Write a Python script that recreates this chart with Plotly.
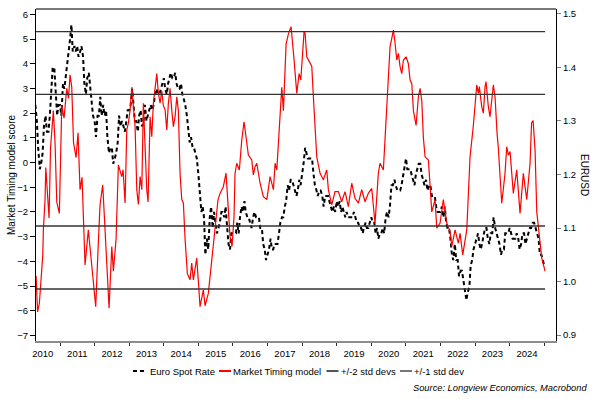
import pandas as pd
import plotly.graph_objects as go

# ---------------- data ----------------
# EURUSD, semi-monthly (1st / 15th), starting 2010-04-15
eurusd = [
    1.33, 1.30, 1.25, 1.21, 1.22, 1.24, 1.29, 1.31, 1.28, 1.28, 1.31, 1.37, 1.40, 1.40, 1.36, 1.31, 1.33,
    1.33, 1.31, 1.37, 1.36, 1.38, 1.40, 1.42, 1.45, 1.48, 1.43, 1.44, 1.43, 1.44, 1.42, 1.43, 1.44, 1.42, 1.37, 1.35, 1.38, 1.39, 1.36, 1.34, 1.31,
    1.30, 1.27, 1.31, 1.31, 1.345, 1.31, 1.33, 1.31, 1.32, 1.27, 1.24, 1.25, 1.25, 1.22, 1.23, 1.24, 1.26, 1.31, 1.29, 1.30, 1.29, 1.28, 1.30, 1.32,
    1.32, 1.33, 1.36, 1.33, 1.30, 1.30, 1.28, 1.31, 1.32, 1.29, 1.30, 1.33, 1.30, 1.31, 1.32, 1.33, 1.32, 1.33, 1.35, 1.36, 1.35, 1.35, 1.36, 1.37,
    1.38, 1.36, 1.35, 1.37, 1.38, 1.39, 1.38, 1.38, 1.39, 1.37, 1.36, 1.36, 1.37, 1.35, 1.34, 1.33, 1.31, 1.28, 1.26, 1.27, 1.25, 1.25, 1.24, 1.23,
    1.20, 1.16, 1.13, 1.14, 1.12, 1.05, 1.08, 1.06, 1.12, 1.14, 1.10, 1.13, 1.11, 1.09, 1.10, 1.11, 1.13, 1.13, 1.12, 1.14, 1.10, 1.07, 1.06, 1.09,
    1.09, 1.09, 1.09, 1.11, 1.09, 1.12, 1.14, 1.13, 1.15, 1.13, 1.12, 1.12, 1.11, 1.10, 1.12, 1.13, 1.12, 1.12, 1.12, 1.10, 1.10, 1.07, 1.06, 1.04,
    1.05, 1.06, 1.08, 1.06, 1.06, 1.07, 1.07, 1.07, 1.09, 1.11, 1.12, 1.12, 1.14, 1.15, 1.18, 1.17, 1.19, 1.19, 1.18, 1.17, 1.16, 1.17, 1.19, 1.18,
    1.20, 1.22, 1.25, 1.24, 1.23, 1.23, 1.23, 1.23, 1.20, 1.18, 1.17, 1.16, 1.17, 1.17, 1.16, 1.14, 1.16, 1.16, 1.16, 1.15, 1.14, 1.13, 1.14, 1.13,
    1.15, 1.14, 1.15, 1.13, 1.14, 1.13, 1.12, 1.13, 1.12, 1.12, 1.12, 1.12, 1.13, 1.12, 1.11, 1.11, 1.10, 1.10, 1.09, 1.10, 1.11, 1.10, 1.10, 1.11,
    1.12, 1.11, 1.11, 1.09, 1.10, 1.08, 1.09, 1.09, 1.10, 1.09, 1.12, 1.13, 1.12, 1.14, 1.18, 1.18, 1.19, 1.18, 1.17, 1.17, 1.17, 1.18, 1.20, 1.21,
    1.23, 1.21, 1.21, 1.21, 1.20, 1.19, 1.18, 1.20, 1.21, 1.22, 1.22, 1.20, 1.19, 1.18, 1.19, 1.17, 1.18, 1.18, 1.16, 1.16, 1.16, 1.14, 1.13, 1.13,
    1.13, 1.14, 1.12, 1.14, 1.11, 1.10, 1.10, 1.08, 1.05, 1.04, 1.07, 1.04, 1.04, 1.01, 1.02, 1.02, 1.00, 0.99, 0.965, 0.98, 0.99, 1.03, 1.04, 1.06,
    1.07, 1.08, 1.09, 1.07, 1.06, 1.07, 1.09, 1.10, 1.10, 1.08, 1.07, 1.09, 1.09, 1.12, 1.10, 1.09, 1.08, 1.07, 1.05, 1.06, 1.06, 1.09, 1.09, 1.09,
    1.10, 1.09, 1.08, 1.08, 1.08, 1.09, 1.08, 1.06, 1.07, 1.09, 1.09, 1.07, 1.08, 1.09, 1.10, 1.10, 1.11, 1.11, 1.10, 1.09, 1.08, 1.05, 1.05, 1.04,
    1.03,
]
eur_dates = pd.date_range("2010-04-15", periods=len(eurusd), freq="SMS")

# Market Timing model score (decimal year, score)
mt_years = [
    2010.306, 2010.350, 2010.402, 2010.471, 2010.500, 2010.517, 2010.566, 2010.587, 2010.633, 2010.682,
    2010.725, 2010.769, 2010.806, 2010.855, 2010.905, 2010.980, 2011.049, 2011.116, 2011.194, 2011.246,
    2011.289, 2011.338, 2011.390, 2011.463, 2011.520, 2011.578, 2011.636, 2011.723, 2011.818, 2011.916,
    2012.032, 2012.099, 2012.156, 2012.234, 2012.301, 2012.417, 2012.495, 2012.541, 2012.619, 2012.685,
    2012.784, 2012.821, 2012.879, 2012.928, 2012.975, 2013.024, 2013.073, 2013.119, 2013.168, 2013.217,
    2013.264, 2013.313, 2013.362, 2013.408, 2013.457, 2013.506, 2013.544, 2013.602, 2013.651, 2013.697,
    2013.746, 2013.796, 2013.842, 2013.891, 2013.940, 2013.986, 2014.036, 2014.085, 2014.131, 2014.180,
    2014.229, 2014.276, 2014.325, 2014.374, 2014.420, 2014.469, 2014.518, 2014.565, 2014.614, 2014.680,
    2014.758, 2014.807, 2014.854, 2014.952, 2014.998, 2015.047, 2015.143, 2015.192, 2015.287, 2015.386,
    2015.481, 2015.568, 2015.626, 2015.721, 2015.799, 2015.837, 2015.915, 2015.973, 2016.030, 2016.059,
    2016.108, 2016.184, 2016.253, 2016.319, 2016.397, 2016.444, 2016.542, 2016.588, 2016.637, 2016.687,
    2016.782, 2016.877, 2016.976, 2017.071, 2017.167, 2017.216, 2017.265, 2017.360, 2017.409, 2017.456,
    2017.534, 2017.600, 2017.649, 2017.678, 2017.765, 2017.843, 2017.910, 2017.959, 2018.054, 2018.083,
    2018.132, 2018.228, 2018.277, 2018.323, 2018.372, 2018.421, 2018.517, 2018.612, 2018.710, 2018.757,
    2018.855, 2018.950, 2019.046, 2019.144, 2019.239, 2019.335, 2019.433, 2019.528, 2019.624, 2019.722,
    2019.818, 2019.913, 2020.011, 2020.107, 2020.202, 2020.251, 2020.347, 2020.396, 2020.454, 2020.540,
    2020.590, 2020.636, 2020.685, 2020.734, 2020.780, 2020.829, 2020.879, 2020.925, 2021.003, 2021.069,
    2021.118, 2021.168, 2021.214, 2021.292, 2021.358, 2021.408, 2021.457, 2021.503, 2021.552, 2021.648,
    2021.746, 2021.841, 2021.890, 2021.986, 2022.081, 2022.180, 2022.275, 2022.324, 2022.420, 2022.515,
    2022.564, 2022.642, 2022.758, 2022.853, 2022.949, 2023.047, 2023.093, 2023.122, 2023.191, 2023.238,
    2023.287, 2023.316, 2023.382, 2023.431, 2023.527, 2023.576, 2023.634, 2023.671, 2023.770, 2023.865,
    2023.914, 2023.961, 2024.010, 2024.105, 2024.203, 2024.299, 2024.394, 2024.492, 2024.588, 2024.631,
    2024.675, 2024.732, 2024.781, 2024.877, 2024.926, 2025.021,
]
mt_scores = [
    -4.6, -6.05, -5.7, -4.15, -3.75, -2.73, -1.5, -0.2, -1.4, -2.25,
    0.6, 1.3, 2.1, 0.8, -1.6, -2.06, 2.3, 1.8, 3.0, 2.6,
    3.55, 3.05, 0.8, 0.2, 1.2, -1.1, -0.6, -4.15, -2.73, -4.15,
    -5.84, -3.5, -1.72, -0.9, -2.6, -5.9, -3.4, -4.4, -3.1, -0.1,
    -0.57, -0.3, -1.64, 1.32, 1.6, 2.13, 3.05, 2.26, 1.45, -1.1,
    -1.7, -0.57, -1.1, 2.4, 0.24, -1.1, -1.6, 1.85, 1.04, 2.4,
    3.0, 3.6, 2.8, 2.4, 2.9, 2.3, 2.13, 1.32, 2.4, 3.0,
    2.13, 1.45, 1.85, 2.66, 2.1, -0.44, -1.5, -1.64, -3.1, -4.5,
    -4.75, -4.07, -4.75, -3.87, -4.8, -5.84, -5.16, -5.8, -5.3, -3.95,
    -2.86, -1.5, -1.25, -0.98, -0.43, -1.38, -3.0, -3.4, -2.2, -0.45,
    -0.03, -0.3, 0.91, 1.65, 0.91, 0.3, 0.1, -0.5, -0.17, -0.03,
    -0.84, -1.38, -1.5, -0.57, -1.1, -0.03, -0.3, 1.72, 3.05, 2.1,
    4.8, 5.2, 5.44, 5.5, 4.15, 2.8, 3.6, 3.34, 5.3, 5.24,
    4.28, 4.0, 3.9, 2.66, 1.2, 0.23, -0.44, -0.7, -0.3, -1.1,
    -1.72, -1.18, -1.18, -1.59, -1.18, -1.79, -0.84, -1.45, -1.65, -1.1,
    -1.59, -1.25, -1.05, -2.46, -0.44, -0.03, -0.3, 1.0, 2.5, 4.69,
    5.03, 5.36, 4.83, 4.15, 4.42, 3.88, 3.6, 4.15, 4.28, 4.0,
    3.34, 3.2, 2.1, 1.5, 2.66, 3.0, 2.5, 1.0, 0.23, 0.1,
    -2.0, -1.5, -2.66, -2.45, -1.5, -2.45, -2.8, -3.4, -2.73, -3.27,
    -2.87, -3.74, -2.73, 0.23, 1.5, 3.14, 2.8, 3.07, 2.26, 2.0,
    3.07, 3.27, 2.26, 1.85, 3.14, 2.66, 1.2, 0.6, -1.65, -0.44,
    0.64, 0.3, 0.44, -1.25, -0.3, -2.06, -0.44, -1.5, -0.03, 1.6,
    1.7, 0.5, -2.0, -3.4, -3.88, -4.4,
]

std2_levels = [5.3, -5.12]   # +/-2 std devs
std1_levels = [2.76, -2.57]  # +/-1 std dev

legend_names = ["Euro Spot Rate", "Market Timing model", "+/-2 std devs", "+/-1 std dev"]
source_text = "Source: Longview Economics, Macrobond"


def dec_to_date(y):
    yr = int(y)
    start = pd.Timestamp(yr, 1, 1)
    end = pd.Timestamp(yr + 1, 1, 1)
    return start + (end - start) * (y - yr)


mt_dates = [dec_to_date(v) for v in mt_years]
span = [mt_dates[0], mt_dates[-1]]

FONT = "Liberation Sans, Arial, sans-serif"
RED = "#ff0000"
STD_COL = "#333333"

fig = go.Figure()

# EURUSD on base axis (right side)
fig.add_trace(go.Scatter(
    x=eur_dates, y=eurusd, mode="lines", name=legend_names[0], yaxis="y",
    line=dict(color="#000000", width=2, dash="4px,3px"), showlegend=False,
))
# Market timing model (left axis, overlay)
fig.add_trace(go.Scatter(
    x=mt_dates, y=mt_scores, mode="lines", name=legend_names[1], yaxis="y2",
    line=dict(color=RED, width=1.2), showlegend=False,
))
for lvl in std2_levels:
    fig.add_trace(go.Scatter(x=span, y=[lvl, lvl], mode="lines", yaxis="y2",
                             name=legend_names[2], showlegend=False,
                             line=dict(color=STD_COL, width=1.4)))
for lvl in std1_levels:
    fig.add_trace(go.Scatter(x=span, y=[lvl, lvl], mode="lines", yaxis="y2",
                             name=legend_names[3], showlegend=False,
                             line=dict(color=STD_COL, width=1.4)))

PLOT_L, PLOT_R, PLOT_T, PLOT_B = 36, 556, 9, 341
PW, PH = PLOT_R - PLOT_L, PLOT_B - PLOT_T


def px(xp):
    return (xp - PLOT_L) / PW


def py(yp):
    return (PLOT_B - yp) / PH


shapes = [
    # top frame line
    dict(type="line", xref="paper", yref="paper", x0=0, x1=1, y0=1, y1=1,
         line=dict(color="#4d4d4d", width=1.5)),
]
annotations = []

# manual legend
leg_y = py(371)
leg_items = [
    (133, 147, dict(color="#000000", width=2, dash="4px,3px"), 148.5, legend_names[0]),
    (219, 231, dict(color=RED, width=2), 232, legend_names[1]),
    (326.5, 338.5, dict(color="#555555", width=2), 339.5, legend_names[2]),
    (400, 412, dict(color="#777777", width=2), 412.5, legend_names[3]),
]
for x0, x1, ln, tx, label in leg_items:
    shapes.append(dict(type="line", xref="paper", yref="paper",
                       x0=px(x0), x1=px(x1), y0=leg_y, y1=leg_y, line=ln))
    annotations.append(dict(xref="paper", yref="paper", x=px(tx), y=leg_y,
                            xanchor="left", yanchor="middle", showarrow=False,
                            text=label, borderpad=0,
                            font=dict(family=FONT, size=9.5, color="#000000")))

annotations.append(dict(xref="paper", yref="paper", x=px(588), y=py(388),
                        xanchor="right", yanchor="middle", showarrow=False,
                        text="<i>" + source_text + "</i>", borderpad=0,
                        font=dict(family=FONT, size=9.3, color="#000000")))
annotations.append(dict(xref="paper", yref="paper", x=px(11), y=0.5,
                        xanchor="center", yanchor="middle", showarrow=False,
                        text="Market Timing model score", textangle=-90,
                        font=dict(family=FONT, size=10, color="#000000")))
annotations.append(dict(xref="paper", yref="paper", x=px(585), y=py(175),
                        xanchor="center", yanchor="middle", showarrow=False,
                        text="EURUSD", textangle=90,
                        font=dict(family=FONT, size=10, color="#000000")))

fig.update_layout(
    width=594, height=399,
    margin=dict(l=PLOT_L, r=594 - PLOT_R, t=PLOT_T, b=399 - PLOT_B, pad=0),
    paper_bgcolor="white", plot_bgcolor="white",
    font=dict(family=FONT, size=9.5, color="#000000"),
    showlegend=False,
    hovermode=False,
    xaxis=dict(
        type="date", range=["2010-04-22", "2025-05-04"],
        tick0="2010-01-01", dtick="M12", tickformat="%Y", ticklabelmode="period",
        ticks="outside", ticklen=3, tickwidth=1, tickcolor="#333333",
        showline=True, linecolor="#8c8c8c", linewidth=2,
        showgrid=False, zeroline=False,
        tickfont=dict(family=FONT, size=9.5, color="#000000"),
    ),
    yaxis=dict(
        side="right", range=[0.8888, 1.5093], tick0=0.9, dtick=0.1, tickformat=".1f",
        ticks="outside", ticklen=4, tickcolor="#808080",
        showline=True, linecolor="#000000", linewidth=1,
        showgrid=False, zeroline=False,
        tickfont=dict(family=FONT, size=9.5, color="#000000"),
    ),
    yaxis2=dict(
        overlaying="y", side="left", range=[-7.227, 6.215], tick0=0, dtick=1,
        ticks="outside", ticklen=5, tickcolor="#000000",
        showline=True, linecolor="#000000", linewidth=1,
        showgrid=False, zeroline=False,
        tickfont=dict(family=FONT, size=9.5, color="#000000"),
    ),
    shapes=shapes,
    annotations=annotations,
)

fig.write_html(
    "out.html",
    config={"displayModeBar": False, "staticPlot": True},
    post_script="document.body.style.margin='0';document.body.style.padding='0';",
)
